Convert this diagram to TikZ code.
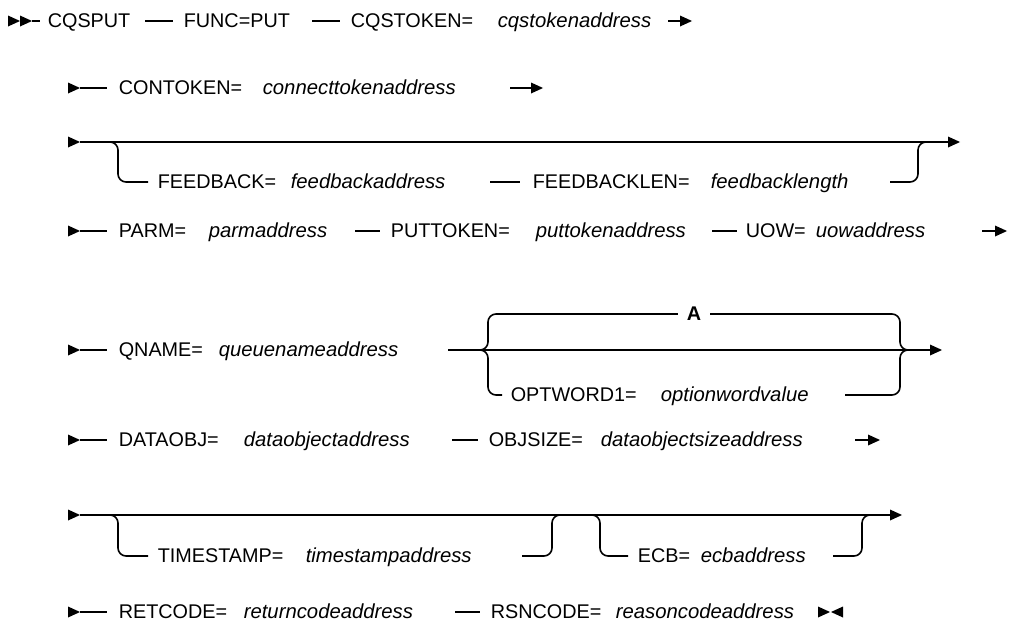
\documentclass[tikz,border=0pt]{standalone}
\usepackage{fontspec}
\setmainfont{Liberation Sans}
\newcommand\rtri[2]{\fill (#1,#2-5.5) -- (#1+12,#2) -- (#1,#2+5.5) -- cycle;}
\newcommand\ltri[2]{\fill (#1+12,#2-5.5) -- (#1,#2) -- (#1+12,#2+5.5) -- cycle;}
\begin{document}
\begin{tikzpicture}[x=1pt,y=-1pt,line width=1.6pt,
  lab/.style={anchor=base west,inner sep=0pt,font=\fontsize{19.8}{22}\selectfont},
  var/.style={lab,font=\fontsize{20.3}{22}\selectfont\itshape},
  rail/.style={line width=1.6pt},
  branch/.style={line width=1.6pt,rounded corners=8pt}]
\useasboundingbox[fill=white] (0,0) rectangle (1014,635);
% ---------- Row 1 ----------
\rtri{8}{21}\rtri{20}{21}
\draw[rail] (32,21) -- (40,21);
\node[lab] (cqsput) at (47,27) {CQSPUT};
\draw[rail] (145,21) -- (173,21);
\node[lab] (func) at (183,27) {FUNC=PUT};
\draw[rail] (312,21) -- (340,21);
\node[lab] (cqstoken) at (350,27) {CQSTOKEN=};
\node[var] (cqstokenv) at (497,27) {cqstokenaddress};
\draw[rail] (668,21) -- (681,21); \rtri{680}{21}
% ---------- Row 2 ----------
\rtri{68}{88}
\draw[rail] (80,88) -- (107,88);
\node[lab] (contoken) at (118,94) {CONTOKEN=};
\node[var] (contokenv) at (262,94) {connecttokenaddress};
\draw[rail] (510,88) -- (532,88); \rtri{531}{88}
% ---------- Row 3 ----------
\rtri{68}{142}
\draw[rail] (80,142) -- (949,142); \rtri{948}{142}
\draw[branch] (104,142) -- (118,142) -- (118,182) -- (148,182);
\node[lab] (feedback) at (157,188) {FEEDBACK=};
\node[var] (feedbackv) at (290,188) {feedbackaddress};
\draw[rail] (490,182) -- (520,182);
\node[lab] (feedbacklen) at (532,188) {FEEDBACKLEN=};
\node[var] (feedbacklenv) at (710,188) {feedbacklength};
\draw[branch] (890,182) -- (918,182) -- (918,142) -- (934,142);
% ---------- Row 4 ----------
\rtri{68}{231}
\draw[rail] (80,231) -- (107,231);
\node[lab] (parm) at (118,237) {PARM=};
\node[var] (parmv) at (208,237) {parmaddress};
\draw[rail] (355,231) -- (380,231);
\node[lab] (puttoken) at (390,237) {PUTTOKEN=};
\node[var] (puttokenv) at (535,237) {puttokenaddress};
\draw[rail] (712,231) -- (737,231);
\node[lab] (uow) at (745,237) {UOW=};
\node[var] (uowv) at (815,237) {uowaddress};
\draw[rail] (982,231) -- (996,231); \rtri{995}{231}
% ---------- Row 5 ----------
\rtri{68}{350}
\draw[rail] (80,350) -- (107,350);
\node[lab] (qname) at (118,356) {QNAME=};
\node[var] (qnamev) at (218,356) {queuenameaddress};
\draw[rail] (448,350) -- (931,350); \rtri{930}{350}
\draw[branch] (476,350) -- (488,350) -- (488,314) -- (502,314);
\draw[branch] (476,350) -- (488,350) -- (488,395) -- (502,395);
\draw[rail] (500,314) -- (678,314);
\node[lab,font=\fontsize{19.8}{22}\selectfont\bfseries] (dflt) at (686,320) {A};
\draw[rail] (710,314) -- (892,314);
\draw[branch] (888,314) -- (900,314) -- (900,350) -- (914,350);
\draw[branch] (845,395) -- (900,395) -- (900,350) -- (914,350);
\node[lab] (optword) at (510,401) {OPTWORD1=};
\node[var] (optwordv) at (660,401) {optionwordvalue};
% ---------- Row 6 ----------
\rtri{68}{440}
\draw[rail] (80,440) -- (107,440);
\node[lab] (dataobj) at (118,446) {DATAOBJ=};
\node[var] (dataobjv) at (243,446) {dataobjectaddress};
\draw[rail] (452,440) -- (478,440);
\node[lab] (objsize) at (488,446) {OBJSIZE=};
\node[var] (objsizev) at (600,446) {dataobjectsizeaddress};
\draw[rail] (855,440) -- (869,440); \rtri{868}{440}
% ---------- Row 7 ----------
\rtri{68}{515}
\draw[rail] (80,515) -- (891,515); \rtri{890}{515}
\draw[branch] (104,515) -- (118,515) -- (118,556) -- (148,556);
\node[lab] (timestamp) at (157,562) {TIMESTAMP=};
\node[var] (timestampv) at (305,562) {timestampaddress};
\draw[branch] (522,556) -- (552,556) -- (552,515) -- (566,515);
\draw[branch] (586,515) -- (600,515) -- (600,556) -- (628,556);
\node[lab] (ecb) at (637,562) {ECB=};
\node[var] (ecbv) at (700,562) {ecbaddress};
\draw[branch] (833,556) -- (862,556) -- (862,515) -- (876,515);
% ---------- Row 8 ----------
\rtri{68}{612}
\draw[rail] (80,612) -- (107,612);
\node[lab] (retcode) at (118,618) {RETCODE=};
\node[var] (retcodev) at (243,618) {returncodeaddress};
\draw[rail] (455,612) -- (480,612);
\node[lab] (rsncode) at (490,618) {RSNCODE=};
\node[var] (rsncodev) at (615,618) {reasoncodeaddress};
\rtri{818}{612}\ltri{831}{612}
\end{tikzpicture}
\end{document}
